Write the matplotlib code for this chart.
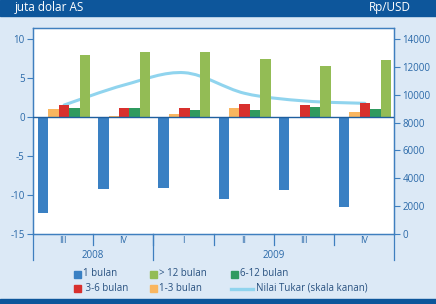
import numpy as np
import matplotlib
matplotlib.use("Agg")
import matplotlib.pyplot as plt
from matplotlib.path import Path
from matplotlib.patches import PathPatch, Rectangle
from matplotlib.lines import Line2D
import matplotlib.transforms as mtransforms

plt.rcParams['font.family'] = ['Open Sans', 'DejaVu Sans']

quarters = ["III", "IV", "I", "II", "III", "IV"]
years = ["2008", "2009"]
year_spans = [(0, 1), (2, 5)]

s_1bulan = [-12.3, -9.25, -9.15, -10.5, -9.4, -11.6]
s_1_3 = [0.95, 0.1, 0.35, 1.1, -0.2, 0.6]
s_3_6 = [1.5, 1.1, 1.1, 1.65, 1.55, 1.75]
s_6_12 = [1.15, 1.1, 0.9, 0.85, 1.2, 1.0]
s_12 = [7.9, 8.25, 8.35, 7.45, 6.45, 7.25]
kurs = [9260, 10700, 11580, 10100, 9550, 9380]

C_BLUE = "#3a80c3"
C_ORANGE = "#f9b660"
C_RED = "#d8302d"
C_DKGREEN = "#2f9a5f"
C_LTGREEN = "#93bc55"
C_LINE = "#90d4ee"
C_AX = "#3f7fbf"
C_TXT = "#2a69a8"
C_BANNER = "#0d569b"
C_BG = "#dce9f6"

W, H = 436, 304
fig = plt.figure(figsize=(W / 100, H / 100), dpi=100, facecolor=C_BG)

def fx(px):
    return px / W

def fy(py):
    return 1 - py / H

# banner
fig.add_artist(Rectangle((0, fy(16)), 1, 16 / H, transform=fig.transFigure,
                         color=C_BANNER, zorder=0))
fig.add_artist(Rectangle((0, 0), 1, 5 / H, transform=fig.transFigure,
                         color=C_BANNER, zorder=0))
fig.text(fx(15), fy(8), "juta dolar AS", color="white", fontsize=8.5, va="center", ha="left")
fig.text(fx(411), fy(8), "Rp/USD", color="white", fontsize=8.5, va="center", ha="right")

x0, x1, yt, yb = 33, 394, 27.7, 234
ax = fig.add_axes([fx(x0), fy(yb), fx(x1 - x0), (yb - yt) / H])

x = np.arange(len(quarters))
bw = 0.173
offs = [-0.33, -0.157, 0.017, 0.19, 0.363]
series = [(s_1bulan, C_BLUE), (s_1_3, C_ORANGE), (s_3_6, C_RED),
          (s_6_12, C_DKGREEN), (s_12, C_LTGREEN)]
for (vals, col), o in zip(series, offs):
    ax.bar(x + o, vals, width=bw, color=col, zorder=2, linewidth=0)

ax.axhline(0, color="#1f5f9f", lw=1.0, zorder=3)
ax.set_xlim(-0.5, 5.5)
ax.set_ylim(-15, 11.4)
ax.set_yticks([-15, -10, -5, 0, 5, 10])
ax.set_yticklabels(["-15", "-10", "-5", "0", "5", "10"])
ax.set_xticks([])
ax.tick_params(axis="y", colors=C_AX, labelcolor=C_TXT, labelsize=7, length=4, width=0.8, pad=2)
for sp in ax.spines.values():
    sp.set_color(C_AX)
    sp.set_linewidth(0.9)

ax2 = ax.twinx()
ax2.set_ylim(0, 14810)
ax2.set_yticks(range(0, 14001, 2000))
ax2.tick_params(axis="y", colors=C_AX, labelcolor=C_TXT, labelsize=7, length=4, width=0.8, pad=2)
for sp in ax2.spines.values():
    sp.set_color(C_AX)
    sp.set_linewidth(0.9)

# put the line axes behind the bars
ax.set_zorder(2)
ax.patch.set_visible(False)
ax2.set_zorder(1)
ax2.patch.set_visible(True)
ax2.patch.set_facecolor("white")

# smoothed exchange-rate line (Catmull-Rom style Bezier through data points)
xs = x + offs[2]
pts = np.column_stack([xs, kurs]).astype(float)
verts = [pts[0]]
codes = [Path.MOVETO]
n = len(pts)
for i in range(n - 1):
    p0 = pts[i - 1] if i > 0 else pts[i]
    p1 = pts[i]
    p2 = pts[i + 1]
    p3 = pts[i + 2] if i + 2 < n else pts[i + 1]
    c1 = p1 + (p2 - p0) / 6
    c2 = p2 - (p3 - p1) / 6
    verts += [c1, c2, p2]
    codes += [Path.CURVE4] * 3
ax2.add_patch(PathPatch(Path(verts, codes), facecolor="none", edgecolor=C_LINE,
                        lw=2.2, zorder=4, capstyle="round"))

# category axis (two levels)
trans = mtransforms.blended_transform_factory(ax.transData, fig.transFigure)
for xi, q in zip(x, quarters):
    fig.text(xi, fy(240.7), q, transform=trans, ha="center", va="center",
             color=C_TXT, fontsize=6.5)
for b in np.arange(0.5, 5.0, 1.0):
    fig.add_artist(Line2D([b, b], [fy(234), fy(245)], transform=trans, color=C_AX, lw=0.9))
for b in [-0.5, 1.5, 5.5]:
    fig.add_artist(Line2D([b, b], [fy(234), fy(259.5)], transform=trans, color=C_AX, lw=0.9))
for yr, (a, bnd) in zip(years, year_spans):
    fig.text((a + bnd) / 2, fy(255.5), yr, transform=trans, ha="center", va="center",
             color=C_TXT, fontsize=7)

# legend (manual)
leg_rows = [274, 288.5]
items = [
    ("sq", C_BLUE, "1 bulan", 74, 0),
    ("sq", C_LTGREEN, "> 12 bulan", 150, 0),
    ("sq", C_DKGREEN, "6-12 bulan", 231, 0),
    ("sq", C_RED, " 3-6 bulan", 74, 1),
    ("sq", C_ORANGE, "1-3 bulan", 150, 1),
    ("ln", C_LINE, "Nilai Tukar (skala kanan)", 231, 1),
]
for kind, col, lab, px, r in items:
    yc = leg_rows[r]
    if kind == "sq":
        fig.add_artist(Rectangle((fx(px), fy(yc + 3.5)), 7 / W, 7 / H,
                                 transform=fig.transFigure, color=col))
        tx = px + 9
    else:
        fig.add_artist(Line2D([fx(px), fx(px + 22)], [fy(yc), fy(yc)],
                              transform=fig.transFigure, color=col, lw=2.4))
        tx = px + 25
    fig.text(fx(tx), fy(yc), lab, ha="left", va="center", color="#27507f", fontsize=7)

fig.savefig("out.png", dpi=100, facecolor=C_BG)
